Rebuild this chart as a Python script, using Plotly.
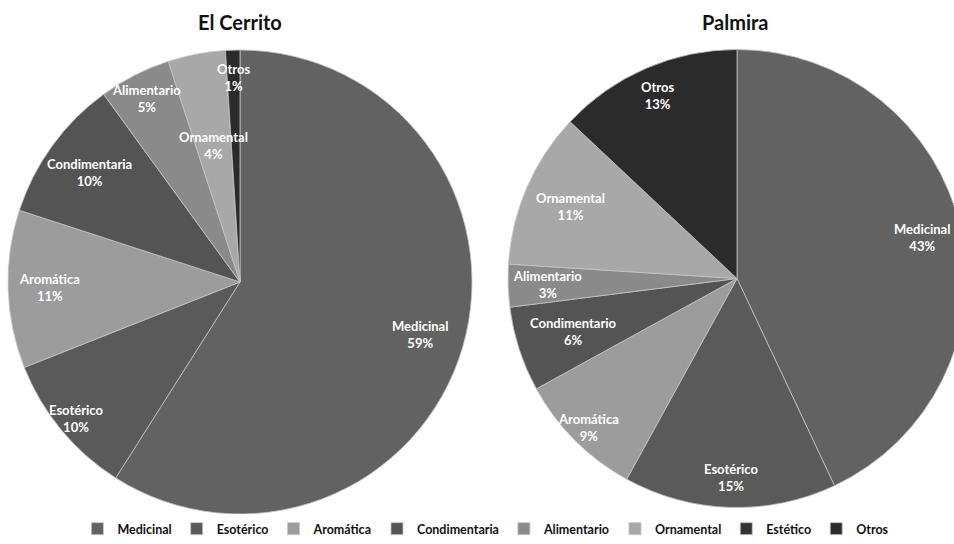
import math
import plotly.graph_objects as go

categories = ["Medicinal", "Esotérico", "Aromática", "Condimentaria", "Alimentario", "Ornamental", "Estético", "Otros"]
cerrito_names = ["Medicinal", "Esotérico", "Aromática", "Condimentaria", "Alimentario", "Ornamental", "Estético", "Otros"]
palmira_names = ["Medicinal", "Esotérico", "Aromática", "Condimentario", "Alimentario", "Ornamental", "Estético", "Otros"]
cerrito_values = [59, 10, 11, 10, 5, 4, 0, 1]
palmira_values = [43, 15, 9, 6, 3, 11, 0, 13]
colors = ["#626262", "#5a5a5a", "#9c9c9c", "#545454", "#8a8a8a", "#a8a8a8", "#343434", "#2b2b2b"]

# label placement style (fraction of the radius, like the spreadsheet's "best fit")
cerrito_label_r = [0.81, 0.92, 0.82, 0.80, 0.89, 0.60, 0.0, 0.88]
palmira_label_r = [0.83, 0.87, 0.92, 0.75, 0.83, 0.79, 0.0, 0.87]

FONT = "Lato"
W, H = 966, 544

cerrito_domain = dict(x=[8 / W, 472 / W], y=[30 / H, 494 / H])
palmira_domain = dict(x=[508 / W, 1.0], y=[36.5 / H, 494.5 / H])


def make_pie(values, domain, show):
    return go.Pie(
        labels=categories, values=values,
        textinfo="none",
        sort=False, direction="clockwise", rotation=0,
        marker=dict(colors=colors, line=dict(color="#c4c4c4", width=0.8)),
        domain=domain, showlegend=show, hoverinfo="label+percent",
    )


def slice_labels(values, names, rfrac, domain):
    x0, x1 = domain["x"][0] * W, domain["x"][1] * W
    y0, y1 = domain["y"][0] * H, domain["y"][1] * H
    cx, cy = (x0 + x1) / 2, (y0 + y1) / 2  # pixel coords, y up
    R = min(x1 - x0, y1 - y0) / 2
    total = sum(values)
    cum = 0
    anns = []
    for v, n, rf in zip(values, names, rfrac):
        mid = (cum + v / 2) / total
        cum += v
        if v <= 0:
            continue
        th = 2 * math.pi * mid
        px = cx + rf * R * math.sin(th)
        py = cy + rf * R * math.cos(th)
        anns.append(dict(
            text=f"{n}<br>{v}%", x=px / W, y=py / H, xref="paper", yref="paper",
            xanchor="center", yanchor="middle", showarrow=False, align="center",
            font=dict(family=FONT, size=13, color="white", weight="bold"),
        ))
    return anns


fig = go.Figure()
fig.add_trace(make_pie(cerrito_values, cerrito_domain, True))
fig.add_trace(make_pie(palmira_values, palmira_domain, False))

annotations = [
    dict(text="El Cerrito", x=240 / W, y=1 - 22 / H, xref="paper", yref="paper",
         xanchor="center", yanchor="middle",
         showarrow=False, font=dict(family=FONT, size=20, color="#111", weight="bold")),
    dict(text="Palmira", x=735 / W, y=1 - 22 / H, xref="paper", yref="paper",
         xanchor="center", yanchor="middle",
         showarrow=False, font=dict(family=FONT, size=20, color="#111", weight="bold")),
]
annotations += slice_labels(cerrito_values, cerrito_names, cerrito_label_r, cerrito_domain)
annotations += slice_labels(palmira_values, palmira_names, palmira_label_r, palmira_domain)

fig.update_layout(
    width=W, height=H,
    margin=dict(l=0, r=0, t=0, b=0),
    paper_bgcolor="white", plot_bgcolor="white",
    font=dict(family=FONT, color="#111"),
    legend=dict(orientation="h", x=0.503, xanchor="center", y=0.0, yanchor="bottom",
                font=dict(family=FONT, size=12.5, color="#111", weight="bold"), itemwidth=30,
                traceorder="normal"),
    annotations=annotations,
)

fig.write_html("out.html", config={"displayModeBar": False},
               post_script="document.body.style.margin='0';document.body.style.overflow='hidden';")
